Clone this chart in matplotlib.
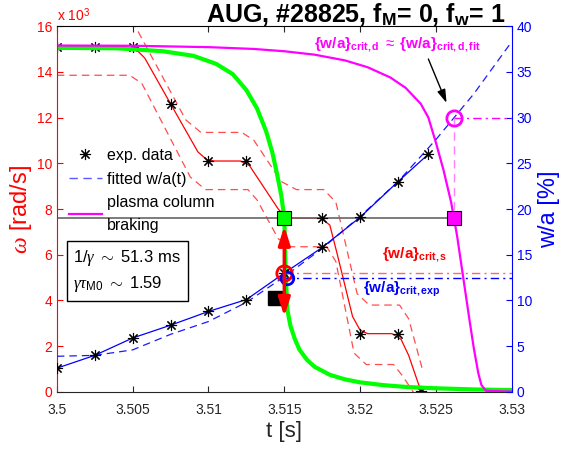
import numpy as np
import matplotlib
matplotlib.use("Agg")
import matplotlib.pyplot as plt
from matplotlib.lines import Line2D

plt.rcParams['font.family'] = ['Liberation Sans', 'DejaVu Sans']
plt.rcParams['mathtext.fontset'] = 'custom'
plt.rcParams['mathtext.rm'] = 'Liberation Sans'
plt.rcParams['mathtext.it'] = 'Liberation Serif:italic'
plt.rcParams['mathtext.bf'] = 'Liberation Sans:bold'

# ---- data (omega in 1e3 rad/s, w/a in %) ----
t_exp = [3.5, 3.5025, 3.505, 3.5075, 3.51, 3.5125, 3.515, 3.5175, 3.52, 3.5225, 3.524]
om_exp = [15.1, 15.1, 15.1, 12.6, 10.1, 10.1, 7.6, 7.6, 2.55, 2.55, 0.05]

t_om = [3.5, 3.5045, 3.5052, 3.5058, 3.5075, 3.5093, 3.5099, 3.5104, 3.5121, 3.5127, 3.5132,
        3.5146, 3.5151, 3.5156, 3.5174, 3.5180, 3.5185, 3.5195, 3.5200, 3.5205, 3.5221,
        3.5227, 3.5232, 3.5240]
om_fit = [15.1, 15.1, 15.0, 14.6, 12.6, 10.5, 10.15, 10.1, 10.1, 9.9, 9.4,
          8.0, 7.65, 7.6, 7.6, 7.3, 6.0, 3.3, 2.7, 2.55, 2.55,
          2.3, 1.6, 0.05]

t_up = [3.5, 3.5040, 3.5050, 3.5085, 3.5095, 3.5122, 3.5130, 3.5148, 3.5158, 3.5176,
        3.5184, 3.5198, 3.5206, 3.5226, 3.5232, 3.5241]
om_up = [16.35, 16.35, 16.2, 11.9, 11.35, 11.35, 11.0, 9.2, 8.85, 8.85,
         8.3, 4.3, 3.8, 3.8, 3.2, 1.0]
t_lo = [3.5, 3.5048, 3.5056, 3.5088, 3.5098, 3.5126, 3.5132, 3.5146, 3.5154, 3.5178,
        3.5184, 3.5196, 3.5204, 3.5222, 3.5228, 3.5238]
om_lo = [13.85, 13.85, 13.5, 9.4, 8.85, 8.85, 8.4, 6.7, 6.35, 6.35,
         5.7, 1.7, 1.2, 1.2, 0.7, -0.3]

t_green = [3.5, 3.504, 3.507, 3.509, 3.5105, 3.5116, 3.5125, 3.5132, 3.5138, 3.5142,
           3.5145, 3.5148, 3.5150, 3.5151, 3.5152, 3.5154, 3.5157, 3.516, 3.5165,
           3.517, 3.518, 3.519, 3.520, 3.5215, 3.523, 3.525, 3.5275, 3.53]
om_green = [15.05, 15.03, 14.9, 14.7, 14.35, 13.9, 13.2, 12.4, 11.4, 10.5,
            9.6, 8.6, 7.6, 5.0, 3.6, 2.9, 2.3, 1.85, 1.4,
            1.1, 0.75, 0.55, 0.42, 0.3, 0.22, 0.16, 0.11, 0.08]

t_mag = [3.5, 3.505, 3.510, 3.513, 3.515, 3.517, 3.519, 3.5205, 3.522, 3.523, 3.524,
         3.5245, 3.525, 3.5255, 3.526, 3.5264, 3.5268, 3.5272, 3.5275, 3.5278, 3.528,
         3.5283, 3.53]
om_mag = [15.15, 15.14, 15.08, 15.0, 14.9, 14.75, 14.5, 14.2, 13.75, 13.3, 12.6,
          12.0, 10.9, 9.7, 8.3, 6.8, 5.0, 3.2, 1.9, 0.8, 0.3,
          0.05, 0.02]

t_wa = [3.5, 3.5025, 3.505, 3.5075, 3.51, 3.5125, 3.515, 3.5175, 3.52, 3.5225, 3.5245]
wa_exp = [2.6, 4.0, 5.9, 7.3, 8.8, 10.1, 13.0, 15.8, 19.1, 23.0, 26.0]

t_wafit = [3.5, 3.5025, 3.505, 3.5075, 3.51, 3.5125, 3.515, 3.5175, 3.52, 3.5225,
           3.525, 3.5275, 3.53]
wa_fit = [3.9, 4.0, 4.6, 6.3, 7.7, 9.8, 12.6, 15.7, 19.2, 23.0, 27.6, 32.6, 38.3]

t_break = 3.515
om_break = 7.6
t_crit_d = 3.5262
wa_crit_d = 30.0
wa_crit_s = 13.0
wa_crit_exp = 12.5
t_black = 3.5144
om_black = 4.1
om_arrow_top = 7.25
om_arrow_mid = 5.2
om_arrow_bot = 3.3

OM_TO_WA = 40 / 16  # left axis 0-16 maps onto right axis 0-40

# ---- figure ----
fig = plt.figure(figsize=(5.63, 4.5), dpi=100)
ax = fig.add_axes([0.101, 0.129, 0.808, 0.813])
ax2 = ax.twinx()

ax.plot(t_om, om_fit, color='red', lw=0.9)
ax.plot(t_up, om_up, color=(1, 0.3, 0.3), lw=0.9, dashes=(6, 4))
ax.plot(t_lo, om_lo, color=(1, 0.3, 0.3), lw=0.9, dashes=(6, 4))
ax.plot([t_exp[0], t_crit_d], [om_break, om_break], color=(0.4, 0.4, 0.4), lw=1.2)
ax.plot(t_exp, om_exp, ls='none', marker=(8, 2, 0), ms=8, mec='black', mew=0.8)
ax.plot(t_green, om_green, color=(0, 1, 0), lw=3)
ax.plot(t_mag, om_mag, color=(1, 0, 1), lw=1.6)

# w/a on right axis
ax2.plot(t_wafit, wa_fit, color=(0.1, 0.1, 1), lw=0.9, dashes=(6, 4))
ax2.plot(t_wa, wa_exp, color='blue', lw=0.9, marker=(8, 2, 0), ms=8, mec='black', mew=0.8)
ax2.plot([t_break, 3.53], [wa_crit_s, wa_crit_s], color=(1, 0.4, 0.4), lw=1, dashes=(6, 3, 1.5, 3))
ax2.plot([t_break, 3.53], [wa_crit_exp, wa_crit_exp], color='blue', lw=1, dashes=(6, 3, 1.5, 3))
ax2.plot([t_crit_d, 3.53], [wa_crit_d, wa_crit_d], color=(1, 0, 1), lw=1, dashes=(6, 3, 1.5, 3))
ax2.plot([t_crit_d, t_crit_d], [wa_crit_d, om_break * OM_TO_WA], color=(1, 0.5, 1), lw=1, dashes=(6, 4))
ax2.plot([t_break], [wa_crit_s], 'o', ms=11, mfc='none', mec='red', mew=2)
ax2.plot([t_break + 0.0002], [wa_crit_exp], 'o', ms=9, mfc='none', mec='blue', mew=2)
ax2.plot([t_crit_d], [wa_crit_d], 'o', ms=11, mfc='none', mec=(1, 0, 1), mew=2)

# markers and arrows drawn in omega units on top
tr = ax.transData
ax2.plot([t_black], [om_black], 's', ms=10, color='black', transform=tr)
for om_tip in [om_arrow_top, om_arrow_bot]:
    ax2.annotate('', xy=(t_break, om_tip), xytext=(t_break, om_arrow_mid), xycoords=tr, textcoords=tr,
                 arrowprops=dict(arrowstyle='-|>,head_width=0.35,head_length=1.1', color='red', lw=2.5,
                                 shrinkA=0, shrinkB=0))
ax2.plot([t_break], [om_break], 's', ms=10, mfc=(0, 1, 0), mec='black', mew=0.8, transform=tr)
ax2.plot([t_crit_d], [om_break], 's', ms=10, mfc=(1, 0, 1), mec='black', mew=0.8, transform=tr)
ax2.annotate('', xy=(3.5257, 31.6), xytext=(3.5245, 36.4),
             arrowprops=dict(arrowstyle='-|>,head_width=0.25,head_length=0.8', color='black', lw=1,
                             shrinkA=0, shrinkB=0))

# texts
ax2.text(3.51694, 37.6, r"{w/a}$_{\mathbf{crit,d}}$ $\approx$ {w/a}$_{\mathbf{crit,d,fit}}$",
         color=(1, 0, 1), fontsize=11, fontweight='bold', va='baseline')
ax2.text(3.52143, 14.6, r"{w/a}$_{\mathbf{crit,s}}$", color='red', fontsize=11,
         fontweight='bold', va='baseline')
ax2.text(3.52018, 10.8, r"{w/a}$_{\mathbf{crit,exp}}$", color='blue', fontsize=11,
         fontweight='bold', va='baseline')
ax.text(0.036, 0.33, "1/$\\gamma$ $\\sim$ 51.3 ms\n$\\gamma\\tau_{\\rm M0}$ $\\sim$ 1.59", transform=ax.transAxes,
        fontsize=12, va='center', linespacing=1.45,
        bbox=dict(boxstyle='square,pad=0.4', fc='white', ec='black', lw=1))
ax.text(0.0, 1.005, r"x 10$^3$", transform=ax.transAxes, color='red', fontsize=10, va='bottom')
ax.text(0.985, 1.011, r"AUG, #28825, f$_{\mathbf{M}}$= 0, f$_{\mathbf{w}}$= 1", transform=ax.transAxes,
        fontsize=18, fontweight='bold', ha='right', va='baseline')

handles = [Line2D([], [], ls='none', marker=(8, 2, 0), ms=8, mec='black', mew=0.8),
           Line2D([], [], color=(0.35, 0.35, 1), lw=1, dashes=(6, 4)),
           Line2D([], [], color=(1, 0, 1), lw=1.6)]
leg = ax2.legend(handles, ['exp. data', 'fitted w/a(t)', 'plasma column\nbraking'], loc='upper left',
                 bbox_to_anchor=(0.012, 0.685), frameon=False, fontsize=11.5, handlelength=2.1,
                 labelspacing=0.55, handletextpad=0.3, borderaxespad=0)
for txt in leg.get_texts():
    txt.set_linespacing(1.6)

# axes styling
ax.set_xlim(3.5, 3.53)
ax.set_ylim(0, 16)
ax2.set_ylim(0, 40)
ax.set_xticks([3.5, 3.505, 3.51, 3.515, 3.52, 3.525, 3.53])
ax.set_xticklabels(['3.5', '3.505', '3.51', '3.515', '3.52', '3.525', '3.53'])
ax.set_yticks(range(0, 17, 2))
ax2.set_yticks(range(0, 41, 5))
ax.tick_params(axis='x', direction='in', length=4, top=True, labelsize=10, colors=(0.15, 0.15, 0.15), pad=8)
ax.tick_params(axis='y', direction='in', length=4, labelsize=10, colors='red')
ax2.tick_params(axis='y', direction='in', length=4, labelsize=10, colors='blue')
ax.spines['left'].set_color('red')
ax.spines['right'].set_visible(False)
ax.spines['bottom'].set_color((0.15, 0.15, 0.15))
ax2.spines['right'].set_color('blue')
for s in ['left', 'top', 'bottom']:
    ax2.spines[s].set_visible(False)
ax.set_xlabel('t [s]', fontsize=16, color=(0.15, 0.15, 0.15), labelpad=3)
ax.set_ylabel(r'$\omega$ [rad/s]', fontsize=17, color='red', labelpad=2)
ax2.set_ylabel('w/a [%]', fontsize=17, color='blue', labelpad=4)

fig.savefig('out.png', dpi=100)
